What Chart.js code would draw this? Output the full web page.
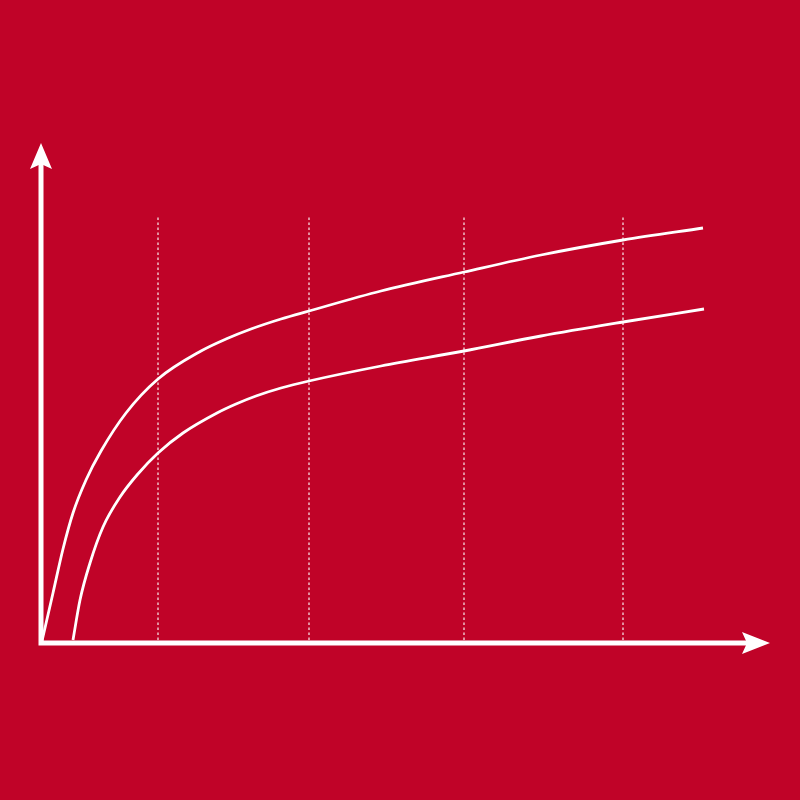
<!DOCTYPE html>
<html>
<head>
<meta charset="utf-8">
<script src="https://cdn.jsdelivr.net/npm/chart.js@4/dist/chart.umd.min.js"></script>
<style>
    html, body { margin: 0; padding: 0; background: #C00328; }
    canvas { display: block; }
</style>
</head>
<body>
<canvas id="growthChart" width="800" height="800"></canvas>
<script>
// values (x = distance along axis, y = height above axis)
const upperX = [1, 12, 22, 32, 45, 60, 85, 117, 160, 185, 210, 240, 268, 340, 423, 500, 582, 662];
const upperY = [2, 50, 94, 130, 163, 192, 230, 264, 292, 304, 314, 324, 332, 352, 371, 388, 403, 415];

const lowerX = [32, 39, 49, 62, 79, 96, 117, 142, 176, 195, 215, 240, 268, 340, 423, 500, 582, 663];
const lowerY = [3, 43, 80, 116, 146, 168, 190, 210, 230, 239, 247, 255, 262, 277, 292, 307, 321, 334];

const markerX = [117, 268, 423, 582];
const markerRange = [3, 428];

const xMax = 729;
const yMax = 500;

const toPoints = (xs, ys) => xs.map((x, i) => ({ x: x, y: ys[i] }));

const markerSets = markerX.map(x => ({
    data: markerRange.map(y => ({ x: x, y: y })),
    borderColor: 'rgba(255, 255, 255, 0.75)',
    borderWidth: 1.5,
    borderDash: [2.5, 2.5],
    pointRadius: 0,
    tension: 0
}));

const curveStyle = {
    borderColor: '#ffffff',
    borderWidth: 2.8,
    pointRadius: 0,
    cubicInterpolationMode: 'monotone',
    fill: false
};

// axes with arrowheads, drawn from the scales
const arrowAxes = {
    id: 'arrowAxes',
    afterDatasetsDraw(chart) {
        const ctx = chart.ctx;
        const x0 = chart.scales.x.getPixelForValue(0);
        const y0 = chart.scales.y.getPixelForValue(0);
        const xEnd = chart.scales.x.getPixelForValue(xMax);
        const yEnd = chart.scales.y.getPixelForValue(yMax);

        ctx.save();
        ctx.strokeStyle = '#ffffff';
        ctx.fillStyle = '#ffffff';
        ctx.lineWidth = 5;
        ctx.lineCap = 'butt';

        ctx.beginPath();
        ctx.moveTo(x0, y0 + 2.5);
        ctx.lineTo(x0, yEnd + 20);
        ctx.moveTo(x0 - 2.5, y0);
        ctx.lineTo(xEnd - 20, y0);
        ctx.stroke();

        // up arrow
        ctx.beginPath();
        ctx.moveTo(x0, yEnd);
        ctx.lineTo(x0 + 11, yEnd + 26);
        ctx.lineTo(x0, yEnd + 21);
        ctx.lineTo(x0 - 11, yEnd + 26);
        ctx.closePath();
        ctx.fill();

        // right arrow
        ctx.beginPath();
        ctx.moveTo(xEnd, y0);
        ctx.lineTo(xEnd - 28, y0 - 11);
        ctx.lineTo(xEnd - 23, y0);
        ctx.lineTo(xEnd - 28, y0 + 11);
        ctx.closePath();
        ctx.fill();
        ctx.restore();
    }
};

const ctx = document.getElementById('growthChart').getContext('2d');
new Chart(ctx, {
    type: 'line',
    data: {
        datasets: [
            ...markerSets,
            Object.assign({ data: toPoints(upperX, upperY) }, curveStyle),
            Object.assign({ data: toPoints(lowerX, lowerY) }, curveStyle)
        ]
    },
    options: {
        responsive: false,
        animation: false,
        devicePixelRatio: 1,
        layout: { padding: { left: 41, right: 30, top: 143, bottom: 157 } },
        plugins: {
            legend: { display: false },
            tooltip: { enabled: false }
        },
        scales: {
            x: { type: 'linear', min: 0, max: xMax, display: false },
            y: { type: 'linear', min: 0, max: yMax, display: false }
        }
    },
    plugins: [arrowAxes]
});
</script>
</body>
</html>
